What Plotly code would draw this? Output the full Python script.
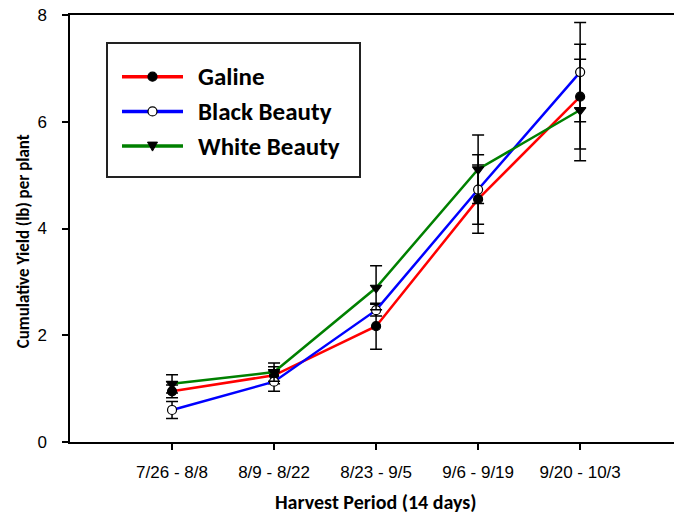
import plotly.graph_objects as go

periods = ["7/26 - 8/8", "8/9 - 8/22", "8/23 - 9/5", "9/6 - 9/19", "9/20 - 10/3"]
xpos = [1, 2, 3, 4, 5]

galine = [0.95, 1.25, 2.17, 4.55, 6.47]
galine_err = [0.12, 0.16, 0.43, 0.64, 0.98]

black_beauty = [0.60, 1.13, 2.47, 4.73, 6.93]
black_beauty_err = [0.16, 0.18, 0.11, 0.65, 0.93]

white_beauty = [1.09, 1.31, 2.89, 5.11, 6.22]
white_beauty_err = [0.17, 0.17, 0.41, 0.64, 0.95]

series = [
    ("Galine", galine, galine_err, "#FF0000", "circle", "black"),
    ("Black Beauty", black_beauty, black_beauty_err, "#0000FF", "circle", "white"),
    ("White Beauty", white_beauty, white_beauty_err, "#008000", "triangle-down", "black"),
]

# plot-area geometry (pixels) for the hand-drawn legend box
L, T, W, H = 70, 15, 604, 427
def px(xp):
    return (xp - L) / W
def py(yp):
    return (T + H - yp) / H

fig = go.Figure()
shapes = []
annotations = []
for i, (name, y, err, col, sym, fill) in enumerate(series):
    fig.add_trace(go.Scatter(
        x=xpos, y=y, name=name, mode="lines+markers",
        line=dict(color=col, width=2.5),
        marker=dict(symbol=sym, color=fill, size=9 if sym == "circle" else 10,
                    line=dict(color="black", width=1.2)),
        showlegend=False,
        error_y=dict(type="data", array=err, visible=True, color="black",
                     thickness=1.5, width=6),
    ))
    # legend entry
    cy = 76.7 + i * 34.7
    shapes.append(dict(type="line", xref="paper", yref="paper",
                       x0=px(122), x1=px(183), y0=py(cy), y1=py(cy),
                       line=dict(color=col, width=3.5)))
    mx = 152.5
    if sym == "circle":
        r = 4.5
        shapes.append(dict(type="circle", xref="paper", yref="paper",
                           x0=px(mx - r), x1=px(mx + r), y0=py(cy + r), y1=py(cy - r),
                           fillcolor=fill, line=dict(color="black", width=1.2)))
    else:
        path = (f"M {px(mx-5)} {py(cy-4)} L {px(mx+5)} {py(cy-4)} "
                f"L {px(mx)} {py(cy+5)} Z")
        shapes.append(dict(type="path", xref="paper", yref="paper", path=path,
                           fillcolor="black", line=dict(color="black", width=1)))
    annotations.append(dict(text=name, xref="paper", yref="paper",
                            x=px(196), y=py(cy), xanchor="left", yanchor="middle",
                            showarrow=False,
                            font=dict(family="Carlito, Lato", size=25, color="black",
                                      weight="bold")))

shapes.insert(0, dict(type="rect", xref="paper", yref="paper",
                      x0=px(107), x1=px(360), y0=py(43), y1=py(177),
                      fillcolor="white", line=dict(color="#222222", width=2),
                      layer="above"))
for s in shapes[1:]:
    s["layer"] = "above"

axis_font = dict(family="Liberation Sans", size=17, color="black")

annotations += [
    dict(text="Harvest Period (14 days)", xref="x", yref="paper", x=3, y=0,
         yshift=-60, showarrow=False, xanchor="center", yanchor="middle",
         font=dict(family="Carlito, Lato", size=20, color="black", weight="bold")),
    dict(text="Cumulative Yield (lb) per plant", xref="paper", yref="paper",
         x=0, y=0.47, xshift=-47, showarrow=False, textangle=-90,
         xanchor="center", yanchor="middle",
         font=dict(family="Carlito, Lato", size=17, color="black", weight="bold")),
]

fig.update_layout(
    width=674, height=516,
    margin=dict(l=L, r=0, t=T, b=516 - T - H),
    paper_bgcolor="white", plot_bgcolor="white",
    showlegend=False,
    shapes=shapes,
    annotations=annotations,
    xaxis=dict(
        range=[0, 5.92], tickmode="array", tickvals=xpos, ticktext=periods,
        showline=True, linecolor="black", linewidth=1.5, mirror=True,
        ticks="outside", ticklen=6, tickcolor="black", tickwidth=1.5,
        ticklabelstandoff=8,
        showgrid=False, zeroline=False, tickfont=axis_font,
    ),
    yaxis=dict(
        range=[0, 8], tickvals=[0, 2, 4, 6, 8],
        showline=True, linecolor="black", linewidth=1.5,
        ticks="outside", ticklen=6, tickcolor="black", tickwidth=1.5,
        ticklabelstandoff=12,
        showgrid=False, zeroline=False, tickfont=axis_font,
    ),
)

fig.write_html("out.html")
